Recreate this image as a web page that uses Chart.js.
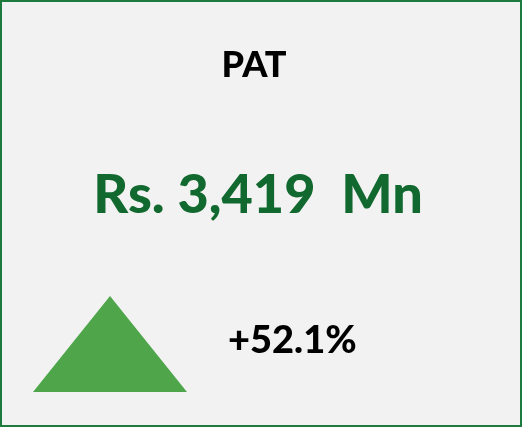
<!DOCTYPE html>
<html>
<head>
<meta charset="utf-8">
<script src="https://cdn.jsdelivr.net/npm/chart.js@4"></script>
<style>
  html, body { margin: 0; padding: 0; background: #fff; }
  #card { width: 522px; height: 427px; box-sizing: border-box; border: 2px solid #1f7a3e; background: #f2f2f2; }
  #card canvas { display: block; }
</style>
</head>
<body>
<div id="card"><canvas id="kpi" width="518" height="423"></canvas></div>
<script>
// KPI values
const kpiTitle = 'PAT'
const kpiValue = 3419
const kpiUnit = 'Mn'
const kpiChange = 52.1

// up-arrow marker, drawn as a filled line through the scales
const markerX = [0, 1, 2]
const markerY = [0, 1, 0]

const greenText = '#11692f'
const greenMarker = '#4ea54a'

const valueText = 'Rs. ' + kpiValue.toLocaleString('en-US') + '  ' + kpiUnit
const changeText = (kpiChange > 0 ? '+' : '') + kpiChange.toFixed(1) + '%'

const textPlugin = {
  id: 'kpiText',
  afterDraw(chart) {
    const ctx = chart.ctx
    ctx.save()
    ctx.textBaseline = 'alphabetic'
    ctx.fillStyle = '#000'
    ctx.textAlign = 'center'
    ctx.font = '900 36px Lato'
    ctx.fillText(kpiTitle, 252, 75)
    ctx.fillStyle = greenText
    ctx.font = '900 54px Lato'
    ctx.fillText(valueText, 256, 211)
    ctx.fillStyle = '#000'
    ctx.textAlign = 'left'
    ctx.font = '900 38px Lato'
    ctx.fillText(changeText, 226, 351)
    ctx.restore()
  }
}

new Chart(document.getElementById('kpi'), {
  type: 'line',
  data: {
    datasets: [{
      data: markerX.map((x, i) => ({x: x, y: markerY[i]})),
      borderWidth: 0,
      pointRadius: 0,
      tension: 0,
      fill: true,
      backgroundColor: greenMarker,
      borderColor: greenMarker
    }]
  },
  options: {
    responsive: false,
    animation: false,
    layout: {padding: {left: 31, right: 333, top: 294, bottom: 33}},
    plugins: {legend: {display: false}, tooltip: {enabled: false}},
    scales: {
      x: {type: 'linear', min: 0, max: 2, display: false},
      y: {min: 0, max: 1, display: false}
    }
  },
  plugins: [textPlugin]
})
</script>
</body>
</html>
